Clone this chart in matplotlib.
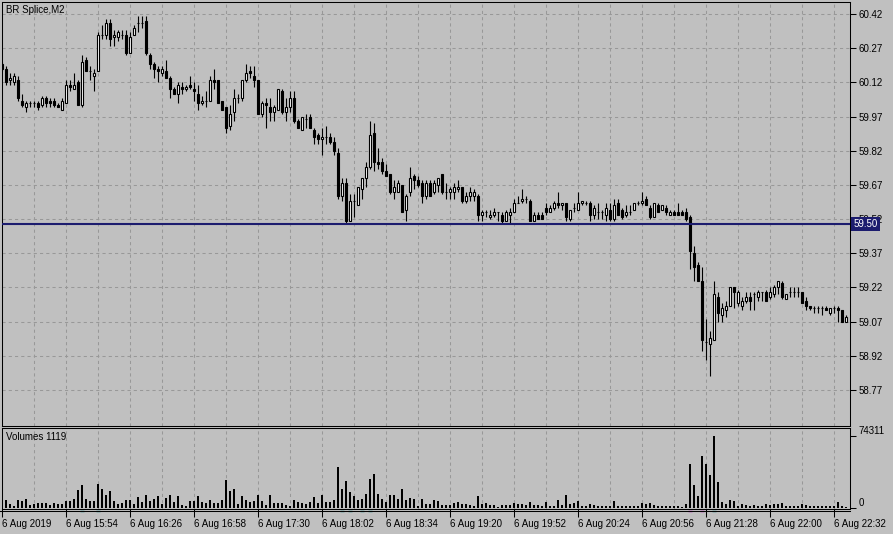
import numpy as np
import matplotlib
matplotlib.use("Agg")
import matplotlib.pyplot as plt
from matplotlib.lines import Line2D
from matplotlib.transforms import blended_transform_factory

# BR Splice, M2 bars (6 Aug 2019)
chart_title = "BR Splice,M2"

opens = [
    60.20, 60.18, 60.13, 60.12, 60.13, 60.04, 60.01, 60.03, 60.03, 60.03,
    60.02, 60.05, 60.04, 60.04, 60.02, 60.00, 60.03, 60.11, 60.09, 60.12,
    60.02, 60.22, 60.17, 60.15, 60.17, 60.33, 60.33, 60.38, 60.32, 60.32,
    60.33, 60.33, 60.25, 60.33, 60.38, 60.38, 60.39, 60.24, 60.20, 60.18,
    60.16, 60.17, 60.14, 60.09, 60.07, 60.10, 60.09, 60.11, 60.09, 60.07,
    60.03, 60.04, 60.04, 60.13, 60.13, 60.04, 60.01, 59.93, 59.99, 60.05,
    60.05, 60.13, 60.17, 60.15, 60.13, 59.98, 60.03, 60.01, 59.99, 60.00,
    60.08, 59.99, 60.01, 60.05, 59.95, 59.91, 59.96, 59.97, 59.91, 59.89,
    59.87, 59.88, 59.88, 59.86, 59.81, 59.62, 59.68, 59.51, 59.60, 59.58,
    59.65, 59.70, 59.75, 59.90, 59.77, 59.77, 59.73, 59.72, 59.64, 59.64,
    59.67, 59.56, 59.64, 59.71, 59.69, 59.68, 59.62, 59.68, 59.64, 59.67,
    59.72, 59.64, 59.64, 59.64, 59.65, 59.66, 59.60, 59.62, 59.62, 59.62,
    59.54, 59.55, 59.53, 59.54, 59.55, 59.54, 59.51, 59.54, 59.55, 59.59,
    59.60, 59.61, 59.60, 59.51, 59.54, 59.54, 59.57, 59.55, 59.57, 59.59,
    59.58, 59.59, 59.52, 59.57, 59.56, 59.59, 59.59, 59.59, 59.54, 59.55,
    59.55, 59.54, 59.56, 59.52, 59.59, 59.56, 59.54, 59.55, 59.56, 59.59,
    59.59, 59.61, 59.57, 59.53, 59.58, 59.56, 59.57, 59.54, 59.55, 59.55,
    59.55, 59.55, 59.53, 59.37, 59.32, 59.25, 58.98, 58.97, 58.99, 59.18,
    59.10, 59.12, 59.14, 59.22, 59.15, 59.14, 59.16, 59.18, 59.19, 59.18,
    59.20, 59.20, 59.18, 59.19, 59.22, 59.24, 59.17, 59.20, 59.20, 59.20,
    59.20, 59.16, 59.14, 59.13, 59.13, 59.13, 59.13, 59.11, 59.13, 59.13,
    59.12, 59.07,
]
highs = [
    60.21, 60.19, 60.16, 60.16, 60.15, 60.07, 60.04, 60.04, 60.04, 60.04,
    60.06, 60.06, 60.05, 60.05, 60.03, 60.05, 60.13, 60.13, 60.16, 60.13,
    60.24, 60.23, 60.19, 60.18, 60.34, 60.37, 60.40, 60.40, 60.35, 60.35,
    60.35, 60.35, 60.34, 60.37, 60.41, 60.41, 60.41, 60.25, 60.21, 60.19,
    60.19, 60.22, 60.15, 60.10, 60.12, 60.12, 60.11, 60.15, 60.12, 60.11,
    60.06, 60.08, 60.15, 60.18, 60.13, 60.04, 60.01, 60.02, 60.09, 60.07,
    60.13, 60.20, 60.19, 60.19, 60.13, 60.04, 60.05, 60.05, 60.02, 60.09,
    60.09, 60.05, 60.08, 60.08, 59.96, 59.97, 59.98, 59.98, 59.92, 59.90,
    59.92, 59.93, 59.90, 59.88, 59.83, 59.70, 59.70, 59.63, 59.63, 59.66,
    59.70, 59.77, 59.95, 59.94, 59.83, 59.79, 59.76, 59.72, 59.69, 59.69,
    59.67, 59.63, 59.75, 59.72, 59.71, 59.69, 59.69, 59.69, 59.69, 59.70,
    59.72, 59.68, 59.66, 59.68, 59.69, 59.66, 59.64, 59.66, 59.65, 59.63,
    59.56, 59.56, 59.56, 59.57, 59.55, 59.55, 59.56, 59.57, 59.61, 59.62,
    59.65, 59.62, 59.61, 59.55, 59.55, 59.55, 59.59, 59.58, 59.60, 59.64,
    59.59, 59.59, 59.56, 59.59, 59.64, 59.60, 59.60, 59.60, 59.58, 59.59,
    59.56, 59.59, 59.59, 59.61, 59.61, 59.57, 59.58, 59.58, 59.59, 59.60,
    59.64, 59.62, 59.58, 59.59, 59.59, 59.58, 59.58, 59.56, 59.56, 59.59,
    59.56, 59.57, 59.54, 59.40, 59.33, 59.31, 59.08, 59.03, 59.25, 59.20,
    59.15, 59.16, 59.22, 59.22, 59.21, 59.18, 59.20, 59.20, 59.20, 59.21,
    59.20, 59.21, 59.22, 59.23, 59.25, 59.25, 59.19, 59.22, 59.22, 59.22,
    59.20, 59.18, 59.14, 59.14, 59.14, 59.14, 59.14, 59.13, 59.14, 59.14,
    59.12, 59.10,
]
lows = [
    60.17, 60.11, 60.11, 60.11, 60.04, 60.01, 59.99, 60.01, 60.01, 60.00,
    60.01, 60.01, 60.01, 60.01, 60.01, 60.00, 60.03, 60.08, 60.09, 60.02,
    60.01, 60.17, 60.13, 60.08, 60.17, 60.31, 60.31, 60.28, 60.28, 60.30,
    60.31, 60.24, 60.25, 60.33, 60.34, 60.36, 60.24, 60.18, 60.14, 60.12,
    60.15, 60.14, 60.05, 60.07, 60.03, 60.07, 60.08, 60.09, 60.04, 60.00,
    60.02, 60.01, 60.04, 60.09, 60.03, 60.00, 59.90, 59.91, 59.95, 60.03,
    60.04, 60.12, 60.14, 60.10, 59.98, 59.97, 59.92, 59.95, 59.95, 60.00,
    59.98, 59.95, 59.99, 59.94, 59.92, 59.91, 59.92, 59.92, 59.85, 59.85,
    59.80, 59.85, 59.85, 59.80, 59.61, 59.60, 59.50, 59.51, 59.53, 59.58,
    59.61, 59.66, 59.74, 59.73, 59.74, 59.72, 59.71, 59.63, 59.61, 59.64,
    59.55, 59.51, 59.62, 59.65, 59.66, 59.59, 59.61, 59.62, 59.63, 59.64,
    59.63, 59.61, 59.61, 59.61, 59.64, 59.59, 59.59, 59.60, 59.60, 59.51,
    59.51, 59.53, 59.52, 59.53, 59.51, 59.50, 59.51, 59.50, 59.55, 59.59,
    59.59, 59.59, 59.51, 59.51, 59.52, 59.52, 59.54, 59.55, 59.56, 59.57,
    59.56, 59.51, 59.51, 59.55, 59.56, 59.58, 59.58, 59.51, 59.52, 59.52,
    59.52, 59.51, 59.51, 59.51, 59.54, 59.52, 59.53, 59.54, 59.56, 59.58,
    59.58, 59.58, 59.52, 59.53, 59.55, 59.56, 59.54, 59.54, 59.54, 59.54,
    59.54, 59.51, 59.30, 59.25, 59.25, 58.94, 58.90, 58.83, 58.99, 59.07,
    59.07, 59.09, 59.14, 59.13, 59.14, 59.12, 59.15, 59.12, 59.12, 59.16,
    59.16, 59.16, 59.17, 59.18, 59.19, 59.17, 59.17, 59.18, 59.18, 59.18,
    59.15, 59.12, 59.12, 59.11, 59.11, 59.10, 59.12, 59.10, 59.11, 59.07,
    59.07, 59.07,
]
closes = [
    60.18, 60.12, 60.14, 60.15, 60.05, 60.02, 60.03, 60.03, 60.03, 60.01,
    60.05, 60.03, 60.03, 60.02, 60.01, 60.04, 60.11, 60.10, 60.11, 60.02,
    60.21, 60.17, 60.17, 60.16, 60.33, 60.33, 60.38, 60.31, 60.33, 60.34,
    60.33, 60.25, 60.32, 60.36, 60.38, 60.38, 60.25, 60.20, 60.18, 60.17,
    60.18, 60.14, 60.09, 60.07, 60.11, 60.09, 60.10, 60.10, 60.08, 60.03,
    60.04, 60.04, 60.13, 60.12, 60.03, 60.00, 59.92, 59.98, 60.05, 60.05,
    60.13, 60.16, 60.16, 60.13, 59.98, 60.03, 60.02, 59.99, 60.01, 60.09,
    59.99, 60.01, 60.05, 59.95, 59.92, 59.97, 59.96, 59.92, 59.88, 59.87,
    59.88, 59.88, 59.86, 59.82, 59.62, 59.68, 59.51, 59.60, 59.60, 59.66,
    59.70, 59.75, 59.89, 59.77, 59.76, 59.73, 59.71, 59.64, 59.66, 59.68,
    59.55, 59.62, 59.70, 59.69, 59.67, 59.62, 59.68, 59.62, 59.68, 59.70,
    59.64, 59.64, 59.65, 59.66, 59.66, 59.60, 59.62, 59.64, 59.64, 59.54,
    59.55, 59.55, 59.54, 59.55, 59.55, 59.51, 59.55, 59.55, 59.59, 59.59,
    59.61, 59.61, 59.51, 59.54, 59.52, 59.52, 59.55, 59.57, 59.59, 59.58,
    59.59, 59.53, 59.56, 59.57, 59.59, 59.60, 59.59, 59.54, 59.57, 59.55,
    59.55, 59.57, 59.52, 59.58, 59.54, 59.53, 59.55, 59.55, 59.59, 59.59,
    59.60, 59.58, 59.53, 59.59, 59.55, 59.58, 59.55, 59.55, 59.54, 59.54,
    59.54, 59.52, 59.38, 59.31, 59.25, 58.99, 58.98, 59.00, 59.19, 59.11,
    59.13, 59.14, 59.22, 59.20, 59.20, 59.16, 59.18, 59.16, 59.19, 59.20,
    59.20, 59.16, 59.20, 59.22, 59.25, 59.18, 59.19, 59.20, 59.20, 59.20,
    59.15, 59.14, 59.13, 59.13, 59.13, 59.13, 59.12, 59.13, 59.13, 59.12,
    59.07, 59.09,
]
volumes = [
    3420, 8560, 4450, 1710, 8560, 6850, 9590, 2740, 4450, 5140,
    5140, 5480, 3430, 5480, 4110, 4450, 6850, 7540, 9590, 18840,
    23980, 9590, 7540, 7540, 25000, 19870, 13700, 17810, 7540, 4110,
    4800, 8560, 8560, 4450, 11650, 5820, 13700, 7540, 9590, 12670,
    4450, 10620, 13700, 5820, 12670, 3080, 1710, 7540, 7540, 12670,
    6510, 4800, 8560, 5140, 5480, 8560, 29110, 17810, 19870, 4450,
    12670, 8560, 6510, 7540, 13700, 7540, 3430, 13700, 5480, 5140,
    5140, 3080, 2400, 8560, 6510, 4800, 4450, 6510, 11650, 5480,
    13700, 6510, 6510, 8560, 42470, 19870, 28090, 16780, 12670, 8560,
    9590, 14730, 30140, 35280, 14730, 9590, 6510, 13700, 13700, 9590,
    19870, 8560, 10620, 9590, 2400, 9590, 4450, 4450, 8560, 7540,
    2740, 3430, 3430, 5140, 5820, 4450, 4110, 3430, 1710, 12670,
    4450, 5480, 2740, 3080, 1370, 3430, 3430, 2740, 5480, 3770,
    4450, 2740, 6510, 3430, 2740, 2400, 6510, 2400, 2400, 8560,
    3080, 13700, 4110, 4800, 7540, 2060, 1710, 4110, 2740, 2400,
    2400, 2400, 2400, 7540, 2400, 2400, 2400, 1710, 1710, 2400,
    5480, 4450, 5480, 3430, 2400, 1710, 1710, 1710, 1710, 2400,
    1030, 4450, 45900, 23980, 12670, 53770, 45550, 34250, 74311, 27060,
    6510, 4450, 8560, 7540, 2400, 4450, 3430, 2400, 3430, 2400,
    2400, 4450, 3430, 4450, 4450, 5480, 2400, 1710, 1710, 1710,
    4450, 3430, 2400, 2400, 1710, 2400, 1710, 1710, 2400, 6510,
    2400, 1119,
]

price_ticks = [60.42, 60.27, 60.12, 59.97, 59.82, 59.67, 59.52,
               59.37, 59.22, 59.07, 58.92, 58.77]
level_price = 59.50
volume_ticks = [0, 74311]
time_labels = ["6 Aug 2019", "6 Aug 15:54", "6 Aug 16:26", "6 Aug 16:58",
               "6 Aug 17:30", "6 Aug 18:02", "6 Aug 18:34", "6 Aug 19:20",
               "6 Aug 19:52", "6 Aug 20:24", "6 Aug 20:56", "6 Aug 21:28",
               "6 Aug 22:00", "6 Aug 22:32"]
time_label_bars = [0, 16, 32, 48, 64, 80, 96, 112, 128, 144, 160, 176, 192, 208]
buy_marks = [20, 24, 85, 87, 90, 92, 178]
sell_marks = [172, 175]

BG = "#c0c0c0"
GRID = "#989898"
NAVY = "#1c1c6e"
W, H = 893, 534


def rect(left, top, right, bottom):
    """Axes box from pixel edges (origin top-left)."""
    return [left / W, 1 - bottom / H, (right - left) / W, (bottom - top) / H]


plt.rcParams["font.family"] = ["Liberation Sans", "DejaVu Sans"]
plt.rcParams["font.size"] = 7

fig = plt.figure(figsize=(W / 100, H / 100), dpi=100, facecolor=BG)
ax = fig.add_axes(rect(2, 2, 850, 426), facecolor=BG)
axv = fig.add_axes(rect(2, 428, 850, 509), facecolor=BG)

o = np.array(opens)
h = np.array(highs)
l = np.array(lows)
c = np.array(closes)
x = np.arange(len(o))
up = c >= o

# candles
ax.vlines(x, l, h, color="black", lw=0.8, zorder=2)
ax.bar(x[up], (c - o)[up], bottom=o[up], width=0.55, facecolor="white",
       edgecolor="black", lw=0.8, zorder=3)
ax.bar(x[~up], (o - c)[~up], bottom=c[~up], width=0.55, facecolor="black",
       edgecolor="black", lw=0.8, zorder=3)

# volumes
axv.bar(x, volumes, width=0.45, color="black", zorder=3)

grid_style = dict(color=GRID, ls=(0, (3, 3)), lw=0.75)
for a in (ax, axv):
    a.set_xlim(0, 212)
    a.set_xticks(time_label_bars)
    a.set_xticks(np.arange(8, 212, 16), minor=True)
    a.grid(True, axis="x", which="both", **grid_style)
    a.set_axisbelow(True)
    for s in a.spines.values():
        s.set_linewidth(0.75)
        s.set_color("black")

ax.set_ylim(58.612, 60.4727)
ax.yaxis.tick_right()
ax.set_yticks(price_ticks)
ax.set_yticklabels([f"{p:.2f}" for p in price_ticks])
ax.grid(True, axis="y", **grid_style)
ax.tick_params(axis="x", which="both", length=0, labelbottom=False)
ax.tick_params(axis="y", direction="out", length=4, width=0.75, pad=2, labelsize=7)

axv.set_ylim(-1032, 82567)
axv.yaxis.tick_right()
axv.set_yticks(volume_ticks)
axv.set_yticklabels([str(v) for v in volume_ticks])
for t in axv.get_yticklabels():
    t.set_va("bottom")
axv.tick_params(axis="y", direction="out", length=4, width=0.75, pad=2, labelsize=7)
axv.set_xticklabels(time_labels, ha="left")
axv.tick_params(axis="x", which="major", direction="out", length=6, width=0.75,
                pad=1.5, labelsize=7)
axv.tick_params(axis="x", which="minor", length=0)

# horizontal level line with its price tag
ax.axhline(level_price, color=NAVY, lw=1.5, zorder=4)
tr = blended_transform_factory(ax.transAxes, ax.transData)
ax.text(1.004, level_price, f"{level_price:.2f}", transform=tr, ha="left",
        va="center", color="white", fontsize=7, clip_on=False, zorder=10,
        bbox=dict(boxstyle="square,pad=0.2", fc=NAVY, ec="none"))

# trade marks under the volume panel
axv.plot(buy_marks, [-3100] * len(buy_marks), ls="none", marker="_",
         color="#008080", ms=3, mew=1, clip_on=False)
axv.plot(sell_marks, [-3100] * len(sell_marks), ls="none", marker="_",
         color="#c000c0", ms=3, mew=1, clip_on=False)

fig.text(6 / W, 1 - 10 / H, chart_title, ha="left", va="center", fontsize=7)
fig.text(6 / W, 1 - 437 / H, f"Volumes {volumes[-1]}", ha="left", va="center",
         fontsize=7)
fig.add_artist(Line2D([0, 850 / W], [1 - 511 / H] * 2, color="black", lw=0.75))

fig.savefig("out.png", dpi=100, facecolor=BG)
